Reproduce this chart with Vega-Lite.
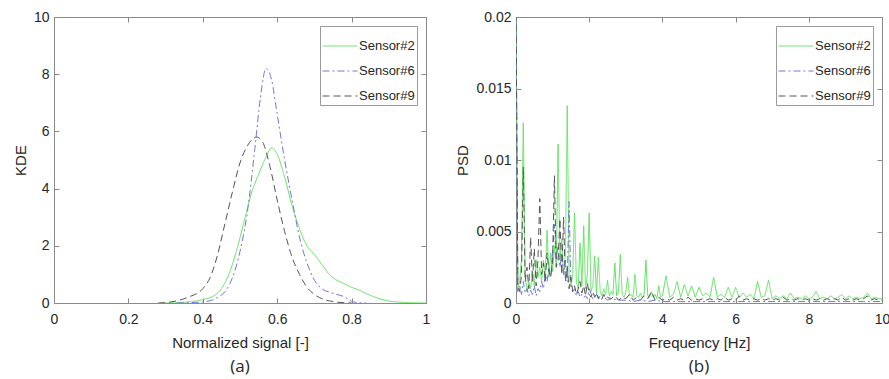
{
  "$schema": "https://vega.github.io/schema/vega-lite/v6.json",
  "padding": {"left": 12, "top": 9, "right": 0, "bottom": 0},
  "background": "white",
  "spacing": 90,
  "bounds": "flush",
  "config": {
    "view": {"stroke": "#8a8a8a", "strokeWidth": 1},
    "axis": {
      "domain": false,
      "grid": false,
      "labelFlush": false,
      "tickColor": "#8a8a8a",
      "tickSize": -5,
      "labelFont": "Liberation Sans",
      "labelFontSize": 14,
      "labelColor": "#262626",
      "titleFont": "Liberation Sans",
      "titleFontSize": 15,
      "titleFontWeight": "normal",
      "titleColor": "#262626"
    },
    "legend": {
      "orient": "top-right",
      "offset": 9,
      "strokeColor": "#9a9a9a",
      "fillColor": "white",
      "padding": 2,
      "symbolType": "stroke",
      "symbolSize": 1225,
      "symbolStrokeWidth": 1,
      "labelFont": "Liberation Sans",
      "labelFontSize": 13,
      "labelColor": "#262626",
      "labelOffset": 1,
      "rowPadding": -14,
      "title": null
    },
    "title": {"font": "Open Sans", "fontSize": 17, "fontWeight": "normal", "color": "#262626"}
  },
  "datasets": {
    "kde": [
      {"s": "Sensor#2", "x": 0.30, "y": 0},
      {"s": "Sensor#2", "x": 0.35, "y": 0.03},
      {"s": "Sensor#2", "x": 0.40, "y": 0.12},
      {"s": "Sensor#2", "x": 0.43, "y": 0.25},
      {"s": "Sensor#2", "x": 0.45, "y": 0.5},
      {"s": "Sensor#2", "x": 0.47, "y": 1.0},
      {"s": "Sensor#2", "x": 0.49, "y": 1.8},
      {"s": "Sensor#2", "x": 0.51, "y": 2.8},
      {"s": "Sensor#2", "x": 0.53, "y": 3.8},
      {"s": "Sensor#2", "x": 0.55, "y": 4.5},
      {"s": "Sensor#2", "x": 0.57, "y": 5.1},
      {"s": "Sensor#2", "x": 0.585, "y": 5.42},
      {"s": "Sensor#2", "x": 0.60, "y": 5.2},
      {"s": "Sensor#2", "x": 0.62, "y": 4.4},
      {"s": "Sensor#2", "x": 0.64, "y": 3.4},
      {"s": "Sensor#2", "x": 0.66, "y": 2.6},
      {"s": "Sensor#2", "x": 0.68, "y": 2.0},
      {"s": "Sensor#2", "x": 0.70, "y": 1.7},
      {"s": "Sensor#2", "x": 0.72, "y": 1.35},
      {"s": "Sensor#2", "x": 0.74, "y": 1.0},
      {"s": "Sensor#2", "x": 0.76, "y": 0.8},
      {"s": "Sensor#2", "x": 0.78, "y": 0.68},
      {"s": "Sensor#2", "x": 0.80, "y": 0.55},
      {"s": "Sensor#2", "x": 0.82, "y": 0.45},
      {"s": "Sensor#2", "x": 0.84, "y": 0.33},
      {"s": "Sensor#2", "x": 0.86, "y": 0.22},
      {"s": "Sensor#2", "x": 0.88, "y": 0.13},
      {"s": "Sensor#2", "x": 0.90, "y": 0.07},
      {"s": "Sensor#2", "x": 0.93, "y": 0.03},
      {"s": "Sensor#2", "x": 0.96, "y": 0.01},
      {"s": "Sensor#2", "x": 1.0, "y": 0},
      {"s": "Sensor#6", "x": 0.33, "y": 0},
      {"s": "Sensor#6", "x": 0.38, "y": 0.02},
      {"s": "Sensor#6", "x": 0.42, "y": 0.08},
      {"s": "Sensor#6", "x": 0.44, "y": 0.2},
      {"s": "Sensor#6", "x": 0.46, "y": 0.4},
      {"s": "Sensor#6", "x": 0.48, "y": 0.9},
      {"s": "Sensor#6", "x": 0.50, "y": 1.8},
      {"s": "Sensor#6", "x": 0.52, "y": 3.2},
      {"s": "Sensor#6", "x": 0.54, "y": 5.4},
      {"s": "Sensor#6", "x": 0.555, "y": 7.2},
      {"s": "Sensor#6", "x": 0.57, "y": 8.2},
      {"s": "Sensor#6", "x": 0.585, "y": 7.8},
      {"s": "Sensor#6", "x": 0.60, "y": 6.6},
      {"s": "Sensor#6", "x": 0.62, "y": 5.0},
      {"s": "Sensor#6", "x": 0.64, "y": 3.6},
      {"s": "Sensor#6", "x": 0.66, "y": 2.3},
      {"s": "Sensor#6", "x": 0.68, "y": 1.4},
      {"s": "Sensor#6", "x": 0.70, "y": 0.8},
      {"s": "Sensor#6", "x": 0.72, "y": 0.5},
      {"s": "Sensor#6", "x": 0.74, "y": 0.38},
      {"s": "Sensor#6", "x": 0.76, "y": 0.3},
      {"s": "Sensor#6", "x": 0.78, "y": 0.22},
      {"s": "Sensor#6", "x": 0.80, "y": 0.06},
      {"s": "Sensor#6", "x": 0.82, "y": 0.01},
      {"s": "Sensor#6", "x": 0.84, "y": 0},
      {"s": "Sensor#9", "x": 0.28, "y": 0},
      {"s": "Sensor#9", "x": 0.32, "y": 0.05},
      {"s": "Sensor#9", "x": 0.36, "y": 0.2},
      {"s": "Sensor#9", "x": 0.40, "y": 0.5},
      {"s": "Sensor#9", "x": 0.42, "y": 0.9},
      {"s": "Sensor#9", "x": 0.44, "y": 1.7},
      {"s": "Sensor#9", "x": 0.46, "y": 2.8},
      {"s": "Sensor#9", "x": 0.48, "y": 3.9},
      {"s": "Sensor#9", "x": 0.50, "y": 4.9},
      {"s": "Sensor#9", "x": 0.52, "y": 5.5},
      {"s": "Sensor#9", "x": 0.545, "y": 5.8},
      {"s": "Sensor#9", "x": 0.56, "y": 5.65},
      {"s": "Sensor#9", "x": 0.58, "y": 4.8},
      {"s": "Sensor#9", "x": 0.60, "y": 3.6},
      {"s": "Sensor#9", "x": 0.62, "y": 2.5},
      {"s": "Sensor#9", "x": 0.64, "y": 1.6},
      {"s": "Sensor#9", "x": 0.66, "y": 1.0},
      {"s": "Sensor#9", "x": 0.68, "y": 0.55},
      {"s": "Sensor#9", "x": 0.70, "y": 0.3},
      {"s": "Sensor#9", "x": 0.72, "y": 0.15},
      {"s": "Sensor#9", "x": 0.75, "y": 0.05},
      {"s": "Sensor#9", "x": 0.78, "y": 0.01},
      {"s": "Sensor#9", "x": 0.80, "y": 0}
    ],
    "psd": [
      {"s":"Sensor#2","x":0.00,"y":0.021},{"s":"Sensor#2","x":0.05,"y":0.0010},{"s":"Sensor#2","x":0.10,"y":0.0015},{"s":"Sensor#2","x":0.15,"y":0.0030},{"s":"Sensor#2","x":0.20,"y":0.0126},{"s":"Sensor#2","x":0.25,"y":0.0020},{"s":"Sensor#2","x":0.30,"y":0.0008},{"s":"Sensor#2","x":0.35,"y":0.0015},{"s":"Sensor#2","x":0.40,"y":0.0010},{"s":"Sensor#2","x":0.45,"y":0.0022},{"s":"Sensor#2","x":0.50,"y":0.0012},{"s":"Sensor#2","x":0.55,"y":0.0030},{"s":"Sensor#2","x":0.60,"y":0.0018},{"s":"Sensor#2","x":0.65,"y":0.0025},{"s":"Sensor#2","x":0.70,"y":0.0015},{"s":"Sensor#2","x":0.75,"y":0.0030},{"s":"Sensor#2","x":0.80,"y":0.0020},{"s":"Sensor#2","x":0.85,"y":0.0051},{"s":"Sensor#2","x":0.90,"y":0.0018},{"s":"Sensor#2","x":0.95,"y":0.0035},{"s":"Sensor#2","x":1.00,"y":0.0022},{"s":"Sensor#2","x":1.05,"y":0.0040},{"s":"Sensor#2","x":1.10,"y":0.0025},{"s":"Sensor#2","x":1.15,"y":0.0111},{"s":"Sensor#2","x":1.20,"y":0.0030},{"s":"Sensor#2","x":1.25,"y":0.0045},{"s":"Sensor#2","x":1.30,"y":0.0020},{"s":"Sensor#2","x":1.35,"y":0.0035},{"s":"Sensor#2","x":1.40,"y":0.0138},{"s":"Sensor#2","x":1.45,"y":0.0020},{"s":"Sensor#2","x":1.50,"y":0.0012},{"s":"Sensor#2","x":1.55,"y":0.0020},{"s":"Sensor#2","x":1.60,"y":0.0063},{"s":"Sensor#2","x":1.65,"y":0.0015},{"s":"Sensor#2","x":1.70,"y":0.0010},{"s":"Sensor#2","x":1.75,"y":0.0042},{"s":"Sensor#2","x":1.80,"y":0.0012},{"s":"Sensor#2","x":1.85,"y":0.0054},{"s":"Sensor#2","x":1.90,"y":0.0010},{"s":"Sensor#2","x":1.95,"y":0.0020},{"s":"Sensor#2","x":2.00,"y":0.0063},{"s":"Sensor#2","x":2.05,"y":0.0008},{"s":"Sensor#2","x":2.10,"y":0.0012},{"s":"Sensor#2","x":2.15,"y":0.0033},{"s":"Sensor#2","x":2.20,"y":0.0006},{"s":"Sensor#2","x":2.25,"y":0.0032},{"s":"Sensor#2","x":2.30,"y":0.0008},{"s":"Sensor#2","x":2.35,"y":0.0005},{"s":"Sensor#2","x":2.40,"y":0.0010},{"s":"Sensor#2","x":2.45,"y":0.0006},{"s":"Sensor#2","x":2.50,"y":0.0016},{"s":"Sensor#2","x":2.55,"y":0.0005},{"s":"Sensor#2","x":2.60,"y":0.0008},{"s":"Sensor#2","x":2.65,"y":0.0006},{"s":"Sensor#2","x":2.70,"y":0.0028},{"s":"Sensor#2","x":2.75,"y":0.0005},{"s":"Sensor#2","x":2.80,"y":0.0008},{"s":"Sensor#2","x":2.85,"y":0.0034},{"s":"Sensor#2","x":2.90,"y":0.0006},{"s":"Sensor#2","x":2.95,"y":0.0004},{"s":"Sensor#2","x":3.00,"y":0.0008},{"s":"Sensor#2","x":3.05,"y":0.0018},{"s":"Sensor#2","x":3.10,"y":0.0005},{"s":"Sensor#2","x":3.15,"y":0.0006},{"s":"Sensor#2","x":3.20,"y":0.0004},{"s":"Sensor#2","x":3.25,"y":0.0020},{"s":"Sensor#2","x":3.30,"y":0.0005},{"s":"Sensor#2","x":3.35,"y":0.0004},{"s":"Sensor#2","x":3.40,"y":0.0007},{"s":"Sensor#2","x":3.45,"y":0.0004},{"s":"Sensor#2","x":3.50,"y":0.0006},{"s":"Sensor#2","x":3.55,"y":0.0030},{"s":"Sensor#2","x":3.60,"y":0.0005},{"s":"Sensor#2","x":3.65,"y":0.0004},{"s":"Sensor#2","x":3.70,"y":0.0008},{"s":"Sensor#2","x":3.75,"y":0.0004},{"s":"Sensor#2","x":3.80,"y":0.0006},{"s":"Sensor#2","x":3.85,"y":0.0003},{"s":"Sensor#2","x":3.90,"y":0.0012},{"s":"Sensor#2","x":3.95,"y":0.0004},{"s":"Sensor#2","x":4.0,"y":0.0005},{"s":"Sensor#2","x":4.1,"y":0.0019},{"s":"Sensor#2","x":4.2,"y":0.0004},{"s":"Sensor#2","x":4.3,"y":0.0006},{"s":"Sensor#2","x":4.4,"y":0.0015},{"s":"Sensor#2","x":4.5,"y":0.0004},{"s":"Sensor#2","x":4.6,"y":0.0013},{"s":"Sensor#2","x":4.7,"y":0.0005},{"s":"Sensor#2","x":4.8,"y":0.0012},{"s":"Sensor#2","x":4.9,"y":0.0004},{"s":"Sensor#2","x":5.0,"y":0.0011},{"s":"Sensor#2","x":5.1,"y":0.0005},{"s":"Sensor#2","x":5.2,"y":0.0007},{"s":"Sensor#2","x":5.3,"y":0.0004},{"s":"Sensor#2","x":5.4,"y":0.0018},{"s":"Sensor#2","x":5.5,"y":0.0004},{"s":"Sensor#2","x":5.6,"y":0.0006},{"s":"Sensor#2","x":5.7,"y":0.0004},{"s":"Sensor#2","x":5.8,"y":0.0011},{"s":"Sensor#2","x":5.9,"y":0.0004},{"s":"Sensor#2","x":6.0,"y":0.0011},{"s":"Sensor#2","x":6.1,"y":0.0004},{"s":"Sensor#2","x":6.2,"y":0.0007},{"s":"Sensor#2","x":6.3,"y":0.0004},{"s":"Sensor#2","x":6.4,"y":0.0006},{"s":"Sensor#2","x":6.5,"y":0.0003},{"s":"Sensor#2","x":6.6,"y":0.0015},{"s":"Sensor#2","x":6.7,"y":0.0004},{"s":"Sensor#2","x":6.8,"y":0.0005},{"s":"Sensor#2","x":6.9,"y":0.0016},{"s":"Sensor#2","x":7.0,"y":0.0003},{"s":"Sensor#2","x":7.1,"y":0.0005},{"s":"Sensor#2","x":7.2,"y":0.0003},{"s":"Sensor#2","x":7.3,"y":0.0005},{"s":"Sensor#2","x":7.4,"y":0.0003},{"s":"Sensor#2","x":7.5,"y":0.0007},{"s":"Sensor#2","x":7.6,"y":0.0003},{"s":"Sensor#2","x":7.7,"y":0.0004},{"s":"Sensor#2","x":7.8,"y":0.0003},{"s":"Sensor#2","x":7.9,"y":0.0005},{"s":"Sensor#2","x":8.0,"y":0.0003},{"s":"Sensor#2","x":8.1,"y":0.0004},{"s":"Sensor#2","x":8.2,"y":0.0008},{"s":"Sensor#2","x":8.3,"y":0.0003},{"s":"Sensor#2","x":8.4,"y":0.0004},{"s":"Sensor#2","x":8.5,"y":0.0003},{"s":"Sensor#2","x":8.6,"y":0.0005},{"s":"Sensor#2","x":8.7,"y":0.0003},{"s":"Sensor#2","x":8.8,"y":0.0004},{"s":"Sensor#2","x":8.9,"y":0.0006},{"s":"Sensor#2","x":9.0,"y":0.0003},{"s":"Sensor#2","x":9.1,"y":0.0005},{"s":"Sensor#2","x":9.2,"y":0.0003},{"s":"Sensor#2","x":9.3,"y":0.0004},{"s":"Sensor#2","x":9.4,"y":0.0003},{"s":"Sensor#2","x":9.5,"y":0.0004},{"s":"Sensor#2","x":9.6,"y":0.0007},{"s":"Sensor#2","x":9.7,"y":0.0003},{"s":"Sensor#2","x":9.8,"y":0.0004},{"s":"Sensor#2","x":9.9,"y":0.0003},{"s":"Sensor#2","x":10.0,"y":0.0003},
      {"s":"Sensor#6","x":0.00,"y":0.021},{"s":"Sensor#6","x":0.05,"y":0.0008},{"s":"Sensor#6","x":0.10,"y":0.0012},{"s":"Sensor#6","x":0.15,"y":0.0006},{"s":"Sensor#6","x":0.20,"y":0.0015},{"s":"Sensor#6","x":0.25,"y":0.0007},{"s":"Sensor#6","x":0.30,"y":0.0010},{"s":"Sensor#6","x":0.35,"y":0.0005},{"s":"Sensor#6","x":0.40,"y":0.0009},{"s":"Sensor#6","x":0.45,"y":0.0006},{"s":"Sensor#6","x":0.50,"y":0.0012},{"s":"Sensor#6","x":0.55,"y":0.0005},{"s":"Sensor#6","x":0.60,"y":0.0010},{"s":"Sensor#6","x":0.65,"y":0.0008},{"s":"Sensor#6","x":0.70,"y":0.0015},{"s":"Sensor#6","x":0.75,"y":0.0010},{"s":"Sensor#6","x":0.80,"y":0.0020},{"s":"Sensor#6","x":0.85,"y":0.0015},{"s":"Sensor#6","x":0.90,"y":0.0025},{"s":"Sensor#6","x":0.95,"y":0.0018},{"s":"Sensor#6","x":1.00,"y":0.0035},{"s":"Sensor#6","x":1.05,"y":0.0055},{"s":"Sensor#6","x":1.10,"y":0.0030},{"s":"Sensor#6","x":1.15,"y":0.0040},{"s":"Sensor#6","x":1.20,"y":0.0025},{"s":"Sensor#6","x":1.25,"y":0.0035},{"s":"Sensor#6","x":1.30,"y":0.0020},{"s":"Sensor#6","x":1.35,"y":0.0030},{"s":"Sensor#6","x":1.40,"y":0.0015},{"s":"Sensor#6","x":1.45,"y":0.0071},{"s":"Sensor#6","x":1.50,"y":0.0012},{"s":"Sensor#6","x":1.55,"y":0.0008},{"s":"Sensor#6","x":1.60,"y":0.0010},{"s":"Sensor#6","x":1.65,"y":0.0005},{"s":"Sensor#6","x":1.70,"y":0.0008},{"s":"Sensor#6","x":1.75,"y":0.0004},{"s":"Sensor#6","x":1.80,"y":0.0006},{"s":"Sensor#6","x":1.85,"y":0.0004},{"s":"Sensor#6","x":1.90,"y":0.0005},{"s":"Sensor#6","x":1.95,"y":0.0003},{"s":"Sensor#6","x":2.00,"y":0.0010},{"s":"Sensor#6","x":2.1,"y":0.0003},{"s":"Sensor#6","x":2.2,"y":0.0006},{"s":"Sensor#6","x":2.3,"y":0.0002},{"s":"Sensor#6","x":2.4,"y":0.0004},{"s":"Sensor#6","x":2.5,"y":0.0002},{"s":"Sensor#6","x":2.6,"y":0.0003},{"s":"Sensor#6","x":2.8,"y":0.0002},{"s":"Sensor#6","x":3.0,"y":0.0002},{"s":"Sensor#6","x":3.2,"y":0.0001},{"s":"Sensor#6","x":3.4,"y":0.0002},{"s":"Sensor#6","x":3.6,"y":0.0001},{"s":"Sensor#6","x":3.8,"y":0.0002},{"s":"Sensor#6","x":4.0,"y":0.0001},{"s":"Sensor#6","x":4.5,"y":0.0001},{"s":"Sensor#6","x":5.0,"y":0.0001},{"s":"Sensor#6","x":5.5,"y":0.0001},{"s":"Sensor#6","x":6.0,"y":0.0001},{"s":"Sensor#6","x":6.5,"y":0.0001},{"s":"Sensor#6","x":7.0,"y":0.0001},{"s":"Sensor#6","x":7.5,"y":0.0001},{"s":"Sensor#6","x":8.0,"y":0.0001},{"s":"Sensor#6","x":8.5,"y":0.0001},{"s":"Sensor#6","x":9.0,"y":0.0001},{"s":"Sensor#6","x":9.5,"y":0.0001},{"s":"Sensor#6","x":10.0,"y":0.0001},
      {"s":"Sensor#9","x":0.00,"y":0.021},{"s":"Sensor#9","x":0.05,"y":0.0012},{"s":"Sensor#9","x":0.10,"y":0.0008},{"s":"Sensor#9","x":0.15,"y":0.0020},{"s":"Sensor#9","x":0.20,"y":0.0095},{"s":"Sensor#9","x":0.25,"y":0.0015},{"s":"Sensor#9","x":0.30,"y":0.0025},{"s":"Sensor#9","x":0.35,"y":0.0010},{"s":"Sensor#9","x":0.40,"y":0.0046},{"s":"Sensor#9","x":0.45,"y":0.0015},{"s":"Sensor#9","x":0.50,"y":0.0038},{"s":"Sensor#9","x":0.55,"y":0.0012},{"s":"Sensor#9","x":0.60,"y":0.0030},{"s":"Sensor#9","x":0.65,"y":0.0073},{"s":"Sensor#9","x":0.70,"y":0.0020},{"s":"Sensor#9","x":0.75,"y":0.0028},{"s":"Sensor#9","x":0.80,"y":0.0015},{"s":"Sensor#9","x":0.85,"y":0.0035},{"s":"Sensor#9","x":0.90,"y":0.0022},{"s":"Sensor#9","x":0.95,"y":0.0018},{"s":"Sensor#9","x":1.00,"y":0.0030},{"s":"Sensor#9","x":1.05,"y":0.0089},{"s":"Sensor#9","x":1.10,"y":0.0025},{"s":"Sensor#9","x":1.15,"y":0.0030},{"s":"Sensor#9","x":1.20,"y":0.0059},{"s":"Sensor#9","x":1.25,"y":0.0020},{"s":"Sensor#9","x":1.30,"y":0.0060},{"s":"Sensor#9","x":1.35,"y":0.0015},{"s":"Sensor#9","x":1.40,"y":0.0025},{"s":"Sensor#9","x":1.45,"y":0.0010},{"s":"Sensor#9","x":1.50,"y":0.0018},{"s":"Sensor#9","x":1.55,"y":0.0008},{"s":"Sensor#9","x":1.60,"y":0.0012},{"s":"Sensor#9","x":1.65,"y":0.0006},{"s":"Sensor#9","x":1.70,"y":0.0010},{"s":"Sensor#9","x":1.75,"y":0.0015},{"s":"Sensor#9","x":1.80,"y":0.0007},{"s":"Sensor#9","x":1.85,"y":0.0012},{"s":"Sensor#9","x":1.90,"y":0.0005},{"s":"Sensor#9","x":1.95,"y":0.0014},{"s":"Sensor#9","x":2.00,"y":0.0006},{"s":"Sensor#9","x":2.05,"y":0.0004},{"s":"Sensor#9","x":2.10,"y":0.0008},{"s":"Sensor#9","x":2.15,"y":0.0004},{"s":"Sensor#9","x":2.20,"y":0.0007},{"s":"Sensor#9","x":2.25,"y":0.0003},{"s":"Sensor#9","x":2.30,"y":0.0005},{"s":"Sensor#9","x":2.35,"y":0.0003},{"s":"Sensor#9","x":2.40,"y":0.0006},{"s":"Sensor#9","x":2.45,"y":0.0003},{"s":"Sensor#9","x":2.50,"y":0.0004},{"s":"Sensor#9","x":2.6,"y":0.0003},{"s":"Sensor#9","x":2.7,"y":0.0005},{"s":"Sensor#9","x":2.8,"y":0.0002},{"s":"Sensor#9","x":2.9,"y":0.0004},{"s":"Sensor#9","x":3.0,"y":0.0003},{"s":"Sensor#9","x":3.1,"y":0.0006},{"s":"Sensor#9","x":3.2,"y":0.0002},{"s":"Sensor#9","x":3.3,"y":0.0004},{"s":"Sensor#9","x":3.4,"y":0.0002},{"s":"Sensor#9","x":3.5,"y":0.0005},{"s":"Sensor#9","x":3.6,"y":0.0003},{"s":"Sensor#9","x":3.7,"y":0.0008},{"s":"Sensor#9","x":3.8,"y":0.0002},{"s":"Sensor#9","x":3.9,"y":0.0004},{"s":"Sensor#9","x":4.0,"y":0.0002},{"s":"Sensor#9","x":4.1,"y":0.0003},{"s":"Sensor#9","x":4.2,"y":0.0002},{"s":"Sensor#9","x":4.3,"y":0.0004},{"s":"Sensor#9","x":4.4,"y":0.0002},{"s":"Sensor#9","x":4.5,"y":0.0003},{"s":"Sensor#9","x":4.6,"y":0.0002},{"s":"Sensor#9","x":4.7,"y":0.0004},{"s":"Sensor#9","x":4.8,"y":0.0002},{"s":"Sensor#9","x":4.9,"y":0.0003},{"s":"Sensor#9","x":5.0,"y":0.0002},{"s":"Sensor#9","x":5.1,"y":0.0003},{"s":"Sensor#9","x":5.2,"y":0.0002},{"s":"Sensor#9","x":5.3,"y":0.0003},{"s":"Sensor#9","x":5.4,"y":0.0002},{"s":"Sensor#9","x":5.5,"y":0.0003},{"s":"Sensor#9","x":5.6,"y":0.0002},{"s":"Sensor#9","x":5.7,"y":0.0004},{"s":"Sensor#9","x":5.8,"y":0.0002},{"s":"Sensor#9","x":5.9,"y":0.0003},{"s":"Sensor#9","x":6.0,"y":0.0002},{"s":"Sensor#9","x":6.1,"y":0.0005},{"s":"Sensor#9","x":6.2,"y":0.0002},{"s":"Sensor#9","x":6.3,"y":0.0003},{"s":"Sensor#9","x":6.4,"y":0.0002},{"s":"Sensor#9","x":6.5,"y":0.0003},{"s":"Sensor#9","x":6.6,"y":0.0002},{"s":"Sensor#9","x":6.7,"y":0.0003},{"s":"Sensor#9","x":6.8,"y":0.0002},{"s":"Sensor#9","x":6.9,"y":0.0003},{"s":"Sensor#9","x":7.0,"y":0.0002},{"s":"Sensor#9","x":7.1,"y":0.0003},{"s":"Sensor#9","x":7.2,"y":0.0002},{"s":"Sensor#9","x":7.3,"y":0.0004},{"s":"Sensor#9","x":7.4,"y":0.0002},{"s":"Sensor#9","x":7.5,"y":0.0003},{"s":"Sensor#9","x":7.6,"y":0.0002},{"s":"Sensor#9","x":7.7,"y":0.0003},{"s":"Sensor#9","x":7.8,"y":0.0002},{"s":"Sensor#9","x":7.9,"y":0.0003},{"s":"Sensor#9","x":8.0,"y":0.0002},{"s":"Sensor#9","x":8.1,"y":0.0003},{"s":"Sensor#9","x":8.2,"y":0.0002},{"s":"Sensor#9","x":8.3,"y":0.0003},{"s":"Sensor#9","x":8.4,"y":0.0002},{"s":"Sensor#9","x":8.5,"y":0.0003},{"s":"Sensor#9","x":8.6,"y":0.0002},{"s":"Sensor#9","x":8.7,"y":0.0003},{"s":"Sensor#9","x":8.8,"y":0.0002},{"s":"Sensor#9","x":8.9,"y":0.0004},{"s":"Sensor#9","x":9.0,"y":0.0002},{"s":"Sensor#9","x":9.1,"y":0.0003},{"s":"Sensor#9","x":9.2,"y":0.0002},{"s":"Sensor#9","x":9.3,"y":0.0003},{"s":"Sensor#9","x":9.4,"y":0.0002},{"s":"Sensor#9","x":9.5,"y":0.0003},{"s":"Sensor#9","x":9.6,"y":0.0005},{"s":"Sensor#9","x":9.7,"y":0.0002},{"s":"Sensor#9","x":9.8,"y":0.0003},{"s":"Sensor#9","x":9.9,"y":0.0002},{"s":"Sensor#9","x":10.0,"y":0.0002}
    ]
  },
  "hconcat": [
    {
      "width": 372,
      "height": 286,
      "title": {"text": "(a)", "orient": "bottom", "offset": 9},
      "layer": [
        {
          "data": {"name": "kde"},
          "mark": {"type": "line", "interpolate": "monotone", "strokeWidth": 1, "clip": true},
          "encoding": {
            "x": {"field": "x", "type": "quantitative", "scale": {"domain": [0, 1], "nice": false},
                  "axis": {"orient": "bottom", "values": [0, 0.2, 0.4, 0.6, 0.8, 1], "format": "~r", "title": "Normalized signal [-]", "labelPadding": 14, "titlePadding": 9}},
            "y": {"field": "y", "type": "quantitative", "scale": {"domain": [0, 10], "nice": false},
                  "axis": {"orient": "left", "values": [0, 2, 4, 6, 8, 10], "format": "~r", "title": "KDE", "labelPadding": 10, "titlePadding": 5}},
            "color": {"field": "s", "type": "nominal", "scale": {"domain": ["Sensor#2", "Sensor#6", "Sensor#9"], "range": ["#5fe35f", "#7474e0", "#555555"]}},
            "strokeDash": {"field": "s", "type": "nominal", "scale": {"domain": ["Sensor#2", "Sensor#6", "Sensor#9"], "range": [[1, 0], [7, 3, 2, 3], [7, 4]]}}
          }
        },
        {
          "data": {"values": [{"x": 0, "y": 0}]},
          "mark": {"type": "point", "opacity": 0},
          "encoding": {
            "x": {"field": "x", "type": "quantitative", "axis": {"orient": "top", "values": [0, 0.2, 0.4, 0.6, 0.8, 1], "labels": false, "title": null}},
            "y": {"field": "y", "type": "quantitative", "axis": {"orient": "right", "values": [0, 2, 4, 6, 8, 10], "labels": false, "title": null}}
          }
        }
      ],
      "resolve": {"axis": {"x": "independent", "y": "independent"}}
    },
    {
      "width": 366,
      "height": 286,
      "title": {"text": "(b)", "orient": "bottom", "offset": 9},
      "layer": [
        {
          "data": {"name": "psd"},
          "mark": {"type": "line", "strokeWidth": 1, "clip": true},
          "encoding": {
            "x": {"field": "x", "type": "quantitative", "scale": {"domain": [0, 10], "nice": false},
                  "axis": {"orient": "bottom", "values": [0, 2, 4, 6, 8, 10], "format": "~r", "title": "Frequency [Hz]", "labelPadding": 14, "titlePadding": 9}},
            "y": {"field": "y", "type": "quantitative", "scale": {"domain": [0, 0.02], "nice": false},
                  "axis": {"orient": "left", "values": [0, 0.005, 0.01, 0.015, 0.02], "format": "~r", "title": "PSD", "labelPadding": 10, "titlePadding": 5}},
            "color": {"field": "s", "type": "nominal", "scale": {"domain": ["Sensor#2", "Sensor#6", "Sensor#9"], "range": ["#5fe35f", "#7474e0", "#555555"]}},
            "strokeDash": {"field": "s", "type": "nominal", "scale": {"domain": ["Sensor#2", "Sensor#6", "Sensor#9"], "range": [[1, 0], [7, 3, 2, 3], [7, 4]]}}
          }
        },
        {
          "data": {"values": [{"x": 0, "y": 0}]},
          "mark": {"type": "point", "opacity": 0},
          "encoding": {
            "x": {"field": "x", "type": "quantitative", "axis": {"orient": "top", "values": [0, 2, 4, 6, 8, 10], "labels": false, "title": null}},
            "y": {"field": "y", "type": "quantitative", "axis": {"orient": "right", "values": [0, 0.005, 0.01, 0.015, 0.02], "labels": false, "title": null}}
          }
        }
      ],
      "resolve": {"axis": {"x": "independent", "y": "independent"}, "legend": {"color": "independent", "strokeDash": "independent"}}
    }
  ],
  "resolve": {"legend": {"color": "independent", "strokeDash": "independent"}}
}
